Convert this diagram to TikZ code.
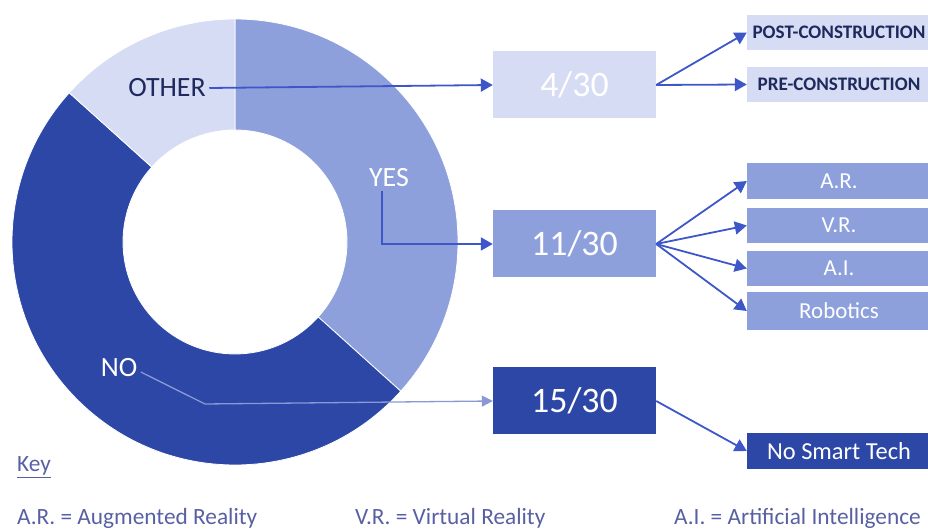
\documentclass[tikz,border=0pt]{standalone}
\usepackage{fontspec}
\setmainfont{Carlito}
\usetikzlibrary{arrows.meta}

\definecolor{yescol}{HTML}{8EA0DC}
\definecolor{nocol}{HTML}{2D47A7}
\definecolor{othercol}{HTML}{D6DCF3}
\definecolor{linkcol}{HTML}{3D57C9}
\definecolor{nolinkcol}{HTML}{8A98D4}
\definecolor{navy}{HTML}{1E2A5E}
\definecolor{keycol}{HTML}{5860A3}

\begin{document}
\begin{tikzpicture}[x=1bp,y=1bp,
        numbox/.style={minimum width=163bp,minimum height=67bp,inner sep=0pt,
            text=white,font=\fontsize{36}{40}\selectfont},
        tagbox/.style={minimum width=184bp,minimum height=35bp,inner sep=0pt,
            fill=yescol,text=white,font=\fontsize{23}{26}\selectfont},
        phasebox/.style={tagbox,fill=othercol,text=navy,font=\bfseries\fontsize{19.2}{22}\selectfont},
        slicelabel/.style={text=white,font=\fontsize{28}{32}\selectfont},
        keytext/.style={anchor=base west,inner sep=0pt,text=keycol,font=\fontsize{23.4}{26}\selectfont},
        link/.style={linkcol,line width=1.8bp,-{Triangle[length=12bp,width=13bp]}},
        nolink/.style={nolinkcol,line width=1.3bp,-{Triangle[length=11bp,width=11bp]}}
    ]
    \useasboundingbox (0,0) rectangle (928,531);
    \clip (0,0) rectangle (928,531);

    \begin{scope}[shift={(235,289)},draw=white,line width=0.8bp]
        \filldraw[fill=yescol] (90:223) arc (90:-42:223) -- (-42:112) arc (-42:90:112) -- cycle;
        \filldraw[fill=nocol] (-42:223) arc (-42:-222:223) -- (-222:112) arc (-222:-42:112) -- cycle;
        \filldraw[fill=othercol] (138:223) arc (138:90:223) -- (90:112) arc (90:138:112) -- cycle;
    \end{scope}

    \node[slicelabel,text=navy] (other) at (167,443) {OTHER};
    \node[slicelabel] (yes) at (389,353) {YES};
    \node[slicelabel] (no) at (119,163) {NO};

    \node[numbox,fill=othercol] (b4) at (574.5,446) {4/30};
    \node[numbox,fill=yescol] (b11) at (574.5,287) {11/30};
    \node[numbox,fill=nocol] (b15) at (574.5,130) {15/30};

    \node[phasebox] (post) at (839,498.5) {POST-CONSTRUCTION};
    \node[phasebox] (pre) at (839,446.5) {PRE-CONSTRUCTION};

    \node[tagbox,minimum height=36bp] (ar) at (839,350) {A.R.};
    \node[tagbox] (vr) at (839,305.5) {V.R.};
    \node[tagbox] (ai) at (839,262.5) {A.I.};
    \node[tagbox,minimum height=38bp] (rob) at (839,220) {Robotics};

    \node[tagbox,minimum height=36bp,fill=nocol,font=\fontsize{24.5}{28}\selectfont] (nst) at (839,80) {No Smart Tech};

    \coordinate (nobend) at (205,127);
    \draw[link] (other.east) -- (b4.west);
    \draw[link] ([xshift=-7bp]yes.south) |- (b11.west);
    \draw[nolink] ([yshift=-4bp]no.east) -- (nobend) -- (b15.west);

    \draw[link] (b4.east) -- (post.west);
    \draw[link] (b4.east) -- (pre.west);
    \draw[link] (b11.east) -- (ar.west);
    \draw[link] (b11.east) -- (vr.west);
    \draw[link] (b11.east) -- (ai.west);
    \draw[link] (b11.east) -- (rob.west);
    \draw[link] (b15.east) -- (nst.west);

    \node[keytext] (key) at (17,59) {\underline{Key}};
    \node[keytext] (keyar) at (17,6.5) {A.R. = Augmented Reality};
    \node[keytext] (keyvr) at (355,6.5) {V.R. = Virtual Reality};
    \node[keytext] (keyai) at (674,6.5) {A.I. = Artificial Intelligence};
\end{tikzpicture}
\end{document}
